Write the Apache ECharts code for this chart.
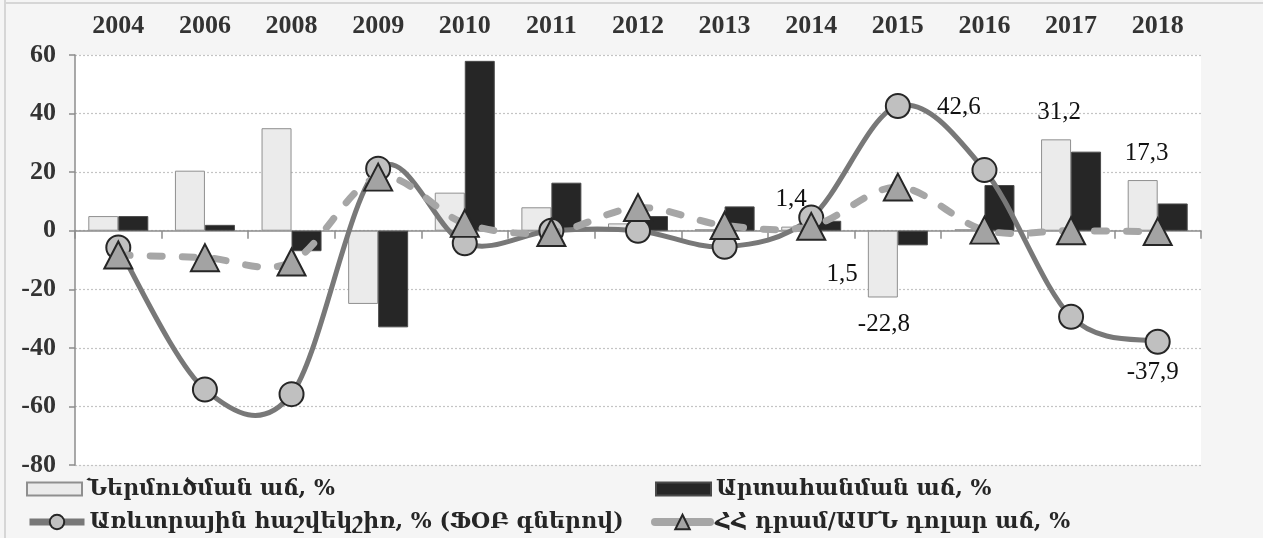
<!DOCTYPE html>
<html>
<head>
<meta charset="utf-8">
<script src="https://cdn.jsdelivr.net/npm/echarts@6/dist/echarts.min.js"></script>
<style>
  html, body { margin: 0; padding: 0; background: #f5f5f5; }
  #chart { width: 1263px; height: 538px; }
</style>
</head>
<body>
<div id="chart"></div>
<script>
// ---- data ----
const years = ['2004','2006','2008','2009','2010','2011','2012','2013','2014','2015','2016','2017','2018'];
const importGrowth = [5, 20.5, 35, -25, 13, 8, 2.5, 0.5, 1.4, -22.8, 0.5, 31.2, 17.3];
const exportGrowth = [5, 2, -7, -33, 58, 16.4, 5, 8.3, 3.4, -5, 15.6, 27, 9.3];
const tradeBalance = [-5.7, -54.2, -55.8, 21.2, -4.3, 0, 0, -5.5, 4.5, 42.6, 20.7, -29.4, -37.9];
const amdUsd = [-8.3, -9.2, -10.7, 18.3, 2.5, -0.6, 7.9, 1.8, 1.5, 14.9, 0.2, 0, -0.3];
const yTicks = { min: -80, max: 60, interval: 20 };
const names = ['Ներմուծման աճ, %', 'Արտահանման աճ, %', 'Առևտրային հաշվեկշիռ, % (ՖՕԲ գներով)', 'ՀՀ դրամ/ԱՄՆ դոլար աճ, %'];

// ---- label styling ----
const numFont = { fontFamily: 'Liberation Serif', fontSize: 25, color: '#111' };
const fmt = v => v.toFixed(1).replace('.', ',');
function labeled(values, cfg) {
  return values.map((v, i) => {
    if (!cfg[i]) return v;
    return { value: v, label: Object.assign({ show: true, formatter: fmt(v) }, numFont, cfg[i]) };
  });
}
const importData = labeled(importGrowth, {
  8: { position: 'top', distance: 5, offset: [-5, -10] },
  9: { position: 'bottom', distance: 14, offset: [1, 0] },
  11: { position: 'top', distance: 14, offset: [3, 0] },
  12: { position: 'top', distance: 14, offset: [4, 0] }
});
const tradeData = labeled(tradeBalance, {
  9: { position: 'inside', offset: [61, 1] },
  12: { position: 'inside', offset: [-5, 31] }
});
const amdData = labeled(amdUsd, {
  8: { position: 'inside', offset: [31, 48] }
});

// Excel-like smoothed line (Catmull-Rom through the data points), drawn via the axes' coords
function splineSeries(values, style, z) {
  return {
    type: 'custom', silent: true, z: z, legendHoverLink: false,
    data: values.map((v, i) => [i, v]),
    encode: { x: 0, y: 1 },
    renderItem: function (params, api) {
      if (params.dataIndex !== 0) return null;
      const p = values.map((v, i) => api.coord([i, v]));
      let d = 'M' + p[0][0] + ' ' + p[0][1];
      for (let i = 0; i < p.length - 1; i++) {
        const p0 = p[Math.max(i - 1, 0)], p1 = p[i], p2 = p[i + 1], p3 = p[Math.min(i + 2, p.length - 1)];
        const c1x = p1[0] + (p2[0] - p0[0]) / 6, c1y = p1[1] + (p2[1] - p0[1]) / 6;
        const c2x = p2[0] - (p3[0] - p1[0]) / 6, c2y = p2[1] - (p3[1] - p1[1]) / 6;
        d += ' C' + c1x + ' ' + c1y + ' ' + c2x + ' ' + c2y + ' ' + p2[0] + ' ' + p2[1];
      }
      return { type: 'path', shape: { pathData: d }, style: Object.assign({ fill: null }, style) };
    }
  };
}

const serif = 'Liberation Serif';
const armFont = 'DejaVu Serif';
const chart = echarts.init(document.getElementById('chart'));
const legendText = { fontFamily: armFont, fontSize: 22, fontWeight: 'bold', color: '#262626' };
const gridTop = 55, gridH = 410;
const zeroOffset = -gridH * (0 - yTicks.min) / (yTicks.max - yTicks.min);
chart.setOption({
  backgroundColor: '#f5f5f5',
  animation: false,
  graphic: [
    { type: 'line', shape: { x1: 5, y1: 0, x2: 5, y2: 538 }, style: { stroke: '#d6d6d6', lineWidth: 2 } },
    { type: 'line', shape: { x1: 5, y1: 3, x2: 1263, y2: 3 }, style: { stroke: '#d6d6d6', lineWidth: 2 } }
  ],
  grid: { left: 75, top: gridTop, width: 1126, height: gridH, show: true, backgroundColor: '#ffffff', borderWidth: 0 },
  legend: [
    { data: [{ name: names[0], icon: 'rect' }], left: 21, top: 473, itemWidth: 55, itemHeight: 13, itemGap: 0, textStyle: legendText },
    { data: [{ name: names[1], icon: 'rect' }], left: 650, top: 473, itemWidth: 55, itemHeight: 13, itemGap: 0, textStyle: legendText },
    { data: [{ name: names[2], lineStyle: { color: '#787878', width: 7, type: 'solid', opacity: 1 } }],
      left: 21, top: 506, itemWidth: 55, itemHeight: 18, itemGap: 0, textStyle: legendText },
    { data: [{ name: names[3], lineStyle: { color: '#a6a6a6', width: 8, type: 'solid', opacity: 1, cap: 'round' } }],
      left: 646, top: 506, itemWidth: 55, itemHeight: 18, itemGap: 0, textStyle: legendText }
  ],
  xAxis: [
    {
      type: 'category', data: years, position: 'top',
      axisLine: { show: false, onZero: false }, axisTick: { show: false },
      axisLabel: { fontFamily: serif, fontWeight: 'bold', fontSize: 26, color: '#333', margin: 16 }
    },
    {
      type: 'category', data: years, position: 'bottom', offset: zeroOffset,
      axisLine: { onZero: false, lineStyle: { color: '#8c8c8c', width: 1.5 } },
      axisTick: { show: true, length: 8, lineStyle: { color: '#8c8c8c', width: 1.5 } },
      axisLabel: { show: false }
    }
  ],
  yAxis: {
    type: 'value', min: yTicks.min, max: yTicks.max, interval: yTicks.interval,
    axisLine: { show: true, lineStyle: { color: '#8c8c8c', width: 1.5 } },
    axisTick: { show: true, length: 6, lineStyle: { color: '#8c8c8c', width: 1.5 } },
    axisLabel: { fontFamily: serif, fontWeight: 'bold', fontSize: 26, color: '#333', margin: 19 },
    splitLine: { show: true, lineStyle: { color: '#c4c4c4', width: 1.2, type: [2, 2] } }
  },
  series: [
    {
      name: names[0], type: 'bar', data: importData, barWidth: 30, barGap: '0%',
      itemStyle: { color: '#ebebeb', borderColor: '#8f8f8f', borderWidth: 1 }
    },
    {
      name: names[1], type: 'bar', data: exportGrowth, barWidth: 30, barGap: '0%',
      itemStyle: { color: '#262626', borderColor: '#4a4a4a', borderWidth: 1 }
    },
    splineSeries(tradeBalance, { stroke: '#787878', lineWidth: 5 }, 3),
    {
      name: names[2], type: 'line', data: tradeData,
      lineStyle: { width: 0, opacity: 0 },
      symbol: 'circle', symbolSize: 24,
      itemStyle: { color: '#c0c0c0', borderColor: '#262626', borderWidth: 2 },
      z: 4
    },
    splineSeries(amdUsd, { stroke: '#a6a6a6', lineWidth: 7, lineDash: [12, 20], lineCap: 'round' }, 5),
    {
      name: names[3], type: 'line', data: amdData,
      lineStyle: { width: 0, opacity: 0 },
      symbol: 'triangle', symbolSize: [28, 27],
      itemStyle: { color: '#a3a3a3', borderColor: '#262626', borderWidth: 2 },
      z: 6
    }
  ]
});
</script>
</body>
</html>
